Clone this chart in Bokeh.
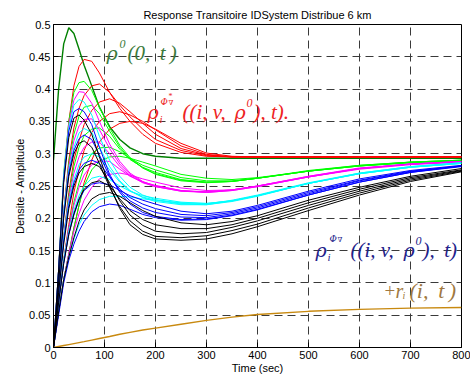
from bokeh.plotting import figure
from bokeh.models import Label, FixedTicker, NumeralTickFormatter, Range1d
from bokeh.embed import file_html
from bokeh.resources import INLINE

# ---------------- data ----------------
t = [0, 10, 20, 30, 40, 50, 60, 75, 90, 110, 130, 150, 175, 200, 250, 300, 350, 400, 500, 600, 700, 800]

rho0 = [0.29, 0.40, 0.47, 0.495, 0.486, 0.462, 0.437, 0.405, 0.372, 0.342, 0.322, 0.309, 0.300, 0.296, 0.293, 0.293, 0.293, 0.293, 0.293, 0.293, 0.293, 0.293]

red = [
    [0, 0.12, 0.26, 0.35, 0.405, 0.435, 0.446, 0.443, 0.425, 0.395, 0.37, 0.35, 0.33, 0.316, 0.302, 0.296, 0.295, 0.295, 0.295, 0.295, 0.295, 0.295],
    [0, 0.10, 0.21, 0.29, 0.34, 0.37, 0.39, 0.405, 0.408, 0.395, 0.375, 0.357, 0.338, 0.322, 0.305, 0.297, 0.295, 0.295, 0.295, 0.295, 0.295, 0.295],
    [0, 0.085, 0.17, 0.24, 0.29, 0.32, 0.345, 0.367, 0.38, 0.385, 0.378, 0.365, 0.347, 0.33, 0.308, 0.298, 0.295, 0.295, 0.295, 0.295, 0.295, 0.295],
    [0, 0.07, 0.135, 0.19, 0.24, 0.275, 0.305, 0.333, 0.35, 0.362, 0.365, 0.36, 0.35, 0.337, 0.312, 0.299, 0.295, 0.295, 0.295, 0.295, 0.295, 0.295],
    [0, 0.055, 0.105, 0.145, 0.185, 0.22, 0.255, 0.29, 0.318, 0.338, 0.347, 0.35, 0.347, 0.338, 0.316, 0.301, 0.296, 0.295, 0.295, 0.295, 0.295, 0.295],
]

green = [
    [0, 0.12, 0.27, 0.35, 0.395, 0.41, 0.412, 0.398, 0.372, 0.34, 0.313, 0.294, 0.278, 0.268, 0.258, 0.255, 0.257, 0.262, 0.274, 0.282, 0.287, 0.290],
    [0, 0.10, 0.21, 0.285, 0.33, 0.358, 0.372, 0.375, 0.362, 0.335, 0.31, 0.292, 0.278, 0.269, 0.259, 0.256, 0.257, 0.262, 0.273, 0.282, 0.287, 0.290],
    [0, 0.085, 0.17, 0.235, 0.28, 0.31, 0.328, 0.338, 0.34, 0.327, 0.307, 0.291, 0.279, 0.271, 0.26, 0.256, 0.257, 0.262, 0.273, 0.281, 0.287, 0.290],
    [0, 0.07, 0.135, 0.185, 0.225, 0.255, 0.28, 0.30, 0.309, 0.31, 0.303, 0.293, 0.282, 0.275, 0.263, 0.258, 0.258, 0.262, 0.273, 0.281, 0.286, 0.289],
    [0, 0.055, 0.105, 0.145, 0.185, 0.22, 0.25, 0.275, 0.288, 0.295, 0.296, 0.293, 0.287, 0.281, 0.268, 0.262, 0.26, 0.263, 0.273, 0.281, 0.286, 0.289],
]

magenta = [
    [0, 0.12, 0.265, 0.345, 0.383, 0.396, 0.395, 0.378, 0.35, 0.315, 0.288, 0.27, 0.257, 0.25, 0.243, 0.241, 0.244, 0.25, 0.265, 0.278, 0.284, 0.288],
    [0, 0.10, 0.21, 0.28, 0.32, 0.343, 0.353, 0.354, 0.337, 0.308, 0.284, 0.268, 0.256, 0.249, 0.242, 0.241, 0.244, 0.25, 0.265, 0.277, 0.284, 0.288],
    [0, 0.085, 0.17, 0.23, 0.27, 0.295, 0.31, 0.318, 0.318, 0.30, 0.28, 0.266, 0.255, 0.249, 0.242, 0.240, 0.243, 0.249, 0.264, 0.277, 0.284, 0.288],
    [0, 0.07, 0.135, 0.185, 0.22, 0.248, 0.267, 0.283, 0.289, 0.288, 0.276, 0.265, 0.256, 0.251, 0.243, 0.240, 0.243, 0.249, 0.264, 0.277, 0.284, 0.287],
    [0, 0.055, 0.105, 0.145, 0.18, 0.207, 0.228, 0.248, 0.261, 0.268, 0.27, 0.267, 0.261, 0.256, 0.247, 0.243, 0.244, 0.25, 0.264, 0.276, 0.283, 0.287],
]

cyan = [
    [0, 0.12, 0.265, 0.34, 0.375, 0.384, 0.38, 0.36, 0.327, 0.29, 0.265, 0.248, 0.236, 0.229, 0.223, 0.222, 0.228, 0.236, 0.255, 0.27, 0.28, 0.286],
    [0, 0.10, 0.21, 0.275, 0.31, 0.332, 0.339, 0.333, 0.31, 0.28, 0.258, 0.243, 0.232, 0.226, 0.221, 0.221, 0.227, 0.235, 0.254, 0.27, 0.28, 0.286],
    [0, 0.085, 0.17, 0.225, 0.26, 0.283, 0.295, 0.30, 0.295, 0.275, 0.256, 0.242, 0.233, 0.228, 0.222, 0.221, 0.226, 0.234, 0.254, 0.269, 0.279, 0.285],
    [0, 0.07, 0.135, 0.18, 0.212, 0.235, 0.25, 0.262, 0.265, 0.26, 0.25, 0.242, 0.235, 0.231, 0.225, 0.223, 0.227, 0.235, 0.254, 0.269, 0.279, 0.285],
    [0, 0.055, 0.105, 0.14, 0.168, 0.19, 0.205, 0.22, 0.229, 0.234, 0.234, 0.233, 0.23, 0.228, 0.224, 0.223, 0.227, 0.235, 0.254, 0.269, 0.279, 0.285],
]

blue = [
    [0, 0.12, 0.26, 0.335, 0.365, 0.37, 0.365, 0.345, 0.31, 0.268, 0.24, 0.222, 0.209, 0.203, 0.198, 0.199, 0.205, 0.214, 0.236, 0.256, 0.271, 0.281],
    [0, 0.10, 0.205, 0.27, 0.305, 0.323, 0.329, 0.322, 0.298, 0.265, 0.242, 0.227, 0.216, 0.209, 0.202, 0.201, 0.207, 0.216, 0.238, 0.258, 0.272, 0.281],
    [0, 0.085, 0.165, 0.22, 0.255, 0.275, 0.285, 0.29, 0.285, 0.264, 0.245, 0.232, 0.222, 0.215, 0.206, 0.204, 0.209, 0.218, 0.240, 0.259, 0.273, 0.281],
    [0, 0.07, 0.13, 0.175, 0.205, 0.228, 0.243, 0.253, 0.255, 0.252, 0.243, 0.235, 0.228, 0.222, 0.211, 0.207, 0.211, 0.22, 0.242, 0.261, 0.274, 0.282],
    [0, 0.05, 0.10, 0.135, 0.16, 0.18, 0.195, 0.21, 0.218, 0.222, 0.22, 0.214, 0.206, 0.201, 0.197, 0.198, 0.204, 0.213, 0.236, 0.256, 0.271, 0.280],
]

black = [
    [0, 0.12, 0.255, 0.325, 0.355, 0.36, 0.352, 0.33, 0.295, 0.25, 0.215, 0.19, 0.175, 0.168, 0.166, 0.168, 0.176, 0.187, 0.212, 0.236, 0.257, 0.272],
    [0, 0.10, 0.20, 0.265, 0.30, 0.316, 0.32, 0.31, 0.285, 0.248, 0.218, 0.196, 0.18, 0.172, 0.17, 0.173, 0.181, 0.191, 0.216, 0.239, 0.259, 0.273],
    [0, 0.085, 0.16, 0.215, 0.25, 0.27, 0.28, 0.285, 0.28, 0.255, 0.227, 0.205, 0.189, 0.18, 0.176, 0.178, 0.186, 0.196, 0.22, 0.242, 0.261, 0.274],
    [0, 0.07, 0.13, 0.175, 0.207, 0.23, 0.245, 0.255, 0.258, 0.25, 0.23, 0.212, 0.198, 0.19, 0.184, 0.184, 0.19, 0.2, 0.224, 0.245, 0.263, 0.275],
    [0, 0.055, 0.105, 0.14, 0.17, 0.195, 0.213, 0.23, 0.237, 0.24, 0.234, 0.224, 0.212, 0.203, 0.193, 0.19, 0.195, 0.204, 0.228, 0.248, 0.265, 0.277],
]

r_i = [0, 0.0015, 0.003, 0.0045, 0.006, 0.0075, 0.009, 0.0115, 0.014, 0.017, 0.0205, 0.0235, 0.027, 0.030, 0.036, 0.042, 0.047, 0.051, 0.056, 0.059, 0.061, 0.062]

x_ticks = [0, 100, 200, 300, 400, 500, 600, 700, 800]
y_ticks = [0, 0.05, 0.1, 0.15, 0.2, 0.25, 0.3, 0.35, 0.4, 0.45, 0.5]

title_text = "Response Transitoire IDSystem Distribue 6 km"
x_label = "Time (sec)"
y_label = "Densite - Amplitude"

# ---------------- figure ----------------
p = figure(width=470, height=376, output_backend="svg", toolbar_location=None,
           x_range=Range1d(0, 800), y_range=Range1d(0, 0.5),
           min_border_left=53, min_border_right=9, min_border_top=24, min_border_bottom=28,
           title=title_text)
p.background_fill_color = "white"
p.border_fill_color = "white"
p.outline_line_color = "black"
p.outline_line_width = 1

p.title.align = "center"
p.title.text_font = "Liberation Sans"
p.title.text_font_size = "11px"
p.title.text_font_style = "normal"
p.title.text_color = "black"
p.title.standoff = 8

for ax in (p.xaxis[0], p.yaxis[0]):
    ax.major_label_text_font = "Liberation Sans"
    ax.major_label_text_font_size = "11px"
    ax.major_label_text_color = "black"
    ax.axis_label_text_font = "Liberation Sans"
    ax.axis_label_text_font_size = "11px"
    ax.axis_label_text_font_style = "normal"
    ax.axis_label_text_color = "black"
    ax.major_tick_in = 5
    ax.major_tick_out = 0
    ax.minor_tick_line_color = None
    ax.axis_line_color = "black"
    ax.major_tick_line_color = "black"
    ax.axis_label_standoff = 0
    ax.major_label_standoff = 3

p.xaxis[0].ticker = FixedTicker(ticks=x_ticks)
p.yaxis[0].ticker = FixedTicker(ticks=y_ticks)
p.yaxis[0].formatter = NumeralTickFormatter(format="0.[00]")
p.xaxis[0].axis_label = x_label
p.yaxis[0].axis_label = y_label

for g in (p.xgrid[0], p.ygrid[0]):
    g.grid_line_color = "#3a3a3a"
    g.grid_line_dash = "8 5"
    g.grid_line_width = 1
p.xgrid[0].ticker = FixedTicker(ticks=x_ticks)
p.ygrid[0].ticker = FixedTicker(ticks=y_ticks)

# curves
p.line(t, rho0, line_color="#008000", line_width=1.4)
families = [(red, "#ff0000"), (green, "#00ff00"), (magenta, "#ff00ff"),
            (cyan, "#00ffff"), (blue, "#0000ff"), (black, "#000000")]
for fam, col in families:
    p.multi_line([t] * len(fam), fam, line_color=col, line_width=1.0)
p.line(t, r_i, line_color="#c8890f", line_width=1.4)

# ---------------- math annotations (pixel placement -> data) ----------------
def lab(text, px, py, size, color, style="italic", font="Liberation Serif"):
    p.add_layout(Label(x=(px - 53) / 0.51, y=(348 - py) / 648.0, text=text,
                       text_font=font, text_font_size=f"{size}px",
                       text_font_style=style, text_color=color,
                       text_baseline="alphabetic", text_align="left"))

GR = "DejaVu Serif"
TS = "\u2009"

dg = "#3b7a3b"
lab("ρ", 106, 53, 19, dg, font=GR)
lab("0", 119, 44, 12, dg)
lab("(0," + TS + " t" + TS + ")", 127, 53, 21, dg)

rd = "#ee2222"
lab("ρ", 147, 112, 19, rd, font=GR)
lab("i", 159, 119, 11, rd)
lab("Φ", 160, 102, 9, rd, font=GR)
lab("∇", 168, 103, 7, rd, "normal", GR)
lab("*", 168, 96, 8, rd, "normal")
lab("((i, v,", 182, 112, 21, rd)
lab("ρ", 234, 112, 19, rd, font=GR)
lab("0", 246, 103, 12, rd)
lab("), t).", 253, 112, 21, rd)

nv = "#22228a"
lab("ρ", 315, 250, 19, nv, font=GR)
lab("i", 327, 257, 11, nv)
lab("Φ", 329, 239, 9, nv, font=GR)
lab("∇", 337, 240, 7, nv, "normal", GR)
lab("((i, v,", 350, 250, 21, nv)
lab("ρ", 403, 250, 19, nv, font=GR)
lab("0", 415, 241, 12, nv)
lab("), " + TS + "t)", 422, 250, 21, nv)

br = "#a07840"
lab("+", 384, 291, 19, br, "normal")
lab("r", 395, 291, 20, br)
lab("i", 402, 296, 10, br)
lab("(i," + TS + " t" + TS + ")", 409, 291, 22, br)

open("out.html", "w").write(file_html(p, INLINE))
